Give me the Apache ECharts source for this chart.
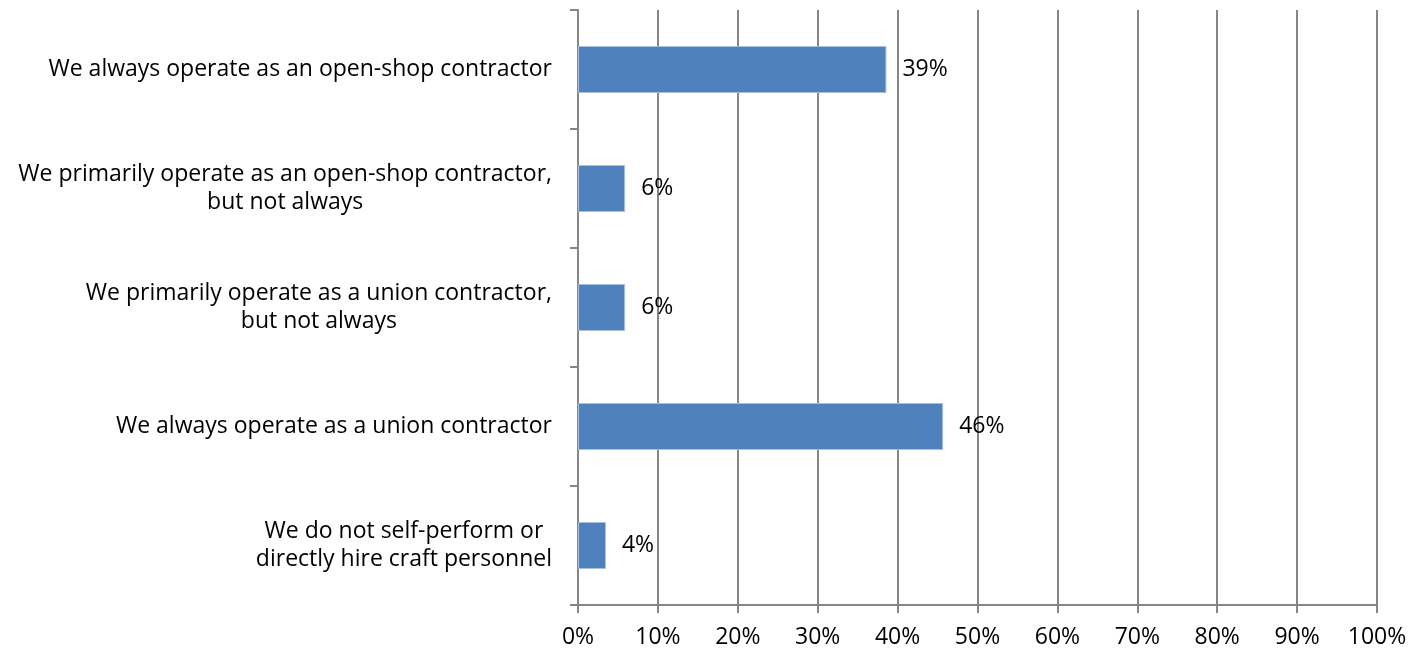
<!DOCTYPE html>
<html>
<head>
<meta charset="utf-8">
<script src="https://cdn.jsdelivr.net/npm/echarts@6/dist/echarts.min.js"></script>
<style>
  html, body { margin: 0; padding: 0; background: #fff; }
  #chart { width: 1425px; height: 654px; }
</style>
</head>
<body>
<div id="chart"></div>
<script>
// survey answers, top to bottom
const categories = [
  'We always operate as an open-shop contractor',
  'We primarily operate as an open-shop contractor,\nbut not always',
  'We primarily operate as a union contractor,\nbut not always',
  'We always operate as a union contractor',
  'We do not self-perform or\ndirectly hire craft personnel'
]
const shares = [38.6, 5.9, 5.9, 45.7, 3.5]
const tickLabels = ['0%', '10%', '20%', '30%', '40%', '50%', '60%', '70%', '80%', '90%', '100%']

const font = 'Open Sans'
const fontSize = 23
const grey = '#868686'

const chart = echarts.init(document.getElementById('chart'))
chart.setOption({
  animation: false,
  grid: { left: 578, right: 48, top: 10, bottom: 49 },
  xAxis: {
    type: 'value',
    min: 0,
    max: 100,
    interval: 10,
    axisLine: { show: true, lineStyle: { color: grey, width: 2 } },
    axisTick: { show: true, length: 8, lineStyle: { color: grey, width: 2 } },
    splitLine: { show: true, lineStyle: { color: grey, width: 2 } },
    axisLabel: {
      margin: 21,
      color: '#000',
      fontFamily: font,
      fontSize: fontSize,
      formatter: (v) => tickLabels[Math.round(v / 10)]
    }
  },
  yAxis: {
    type: 'category',
    inverse: true,
    data: categories,
    axisLine: { show: true, lineStyle: { color: grey, width: 2 } },
    axisTick: { show: true, length: 8, lineStyle: { color: grey, width: 2 } },
    axisLabel: {
      margin: 26,
      color: '#000',
      fontFamily: font,
      fontSize: fontSize,
      lineHeight: 28,
      formatter: (v) => v.split('\n').map(s => '{c|' + s + '}').join('\n'),
      rich: {
        c: { align: 'center', color: '#000', fontFamily: font, fontSize: fontSize, lineHeight: 28 }
      }
    }
  },
  series: [{
    type: 'bar',
    data: shares,
    barWidth: 47,
    itemStyle: { color: '#4F81BD', borderColor: '#A7C0DE', borderWidth: 1 },
    label: {
      show: true,
      position: 'right',
      distance: 16,
      color: '#000',
      fontFamily: font,
      fontSize: fontSize,
      formatter: (p) => Math.round(p.value) + '%'
    }
  }]
})
</script>
</body>
</html>
